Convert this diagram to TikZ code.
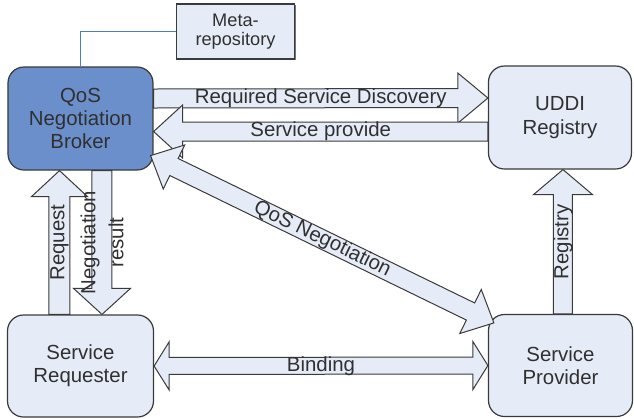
\documentclass[tikz,border=0pt]{standalone}
\usepackage{fontspec}
\setmainfont{Liberation Sans}
\usetikzlibrary{calc,shadows}

\definecolor{boxfill}{HTML}{E6ECF7}
\definecolor{brokerfill}{HTML}{6A8FCA}
\definecolor{edge}{HTML}{3A3A3A}
\definecolor{ink}{HTML}{303030}
\definecolor{linkblue}{HTML}{4A7CC9}

% block arrow from #1 (tail) to #2 (tip):
% #3 shaft half-width, #4 head half-width, #5 head length
\newcommand\blockarrow[5]{%
  \coordinate (hb) at ($(#2)!#5!(#1)$);
  \filldraw[blockarr] ($(#1)!#3!90:(#2)$) -- ($(hb)!#3!90:(#2)$) -- ($(hb)!#4!90:(#2)$)
    -- (#2) -- ($(hb)!#4!-90:(#2)$) -- ($(hb)!#3!-90:(#2)$) -- ($(#1)!#3!-90:(#2)$) -- cycle;
}
% block arrow with a head at both ends
\newcommand\blockdarrow[5]{%
  \coordinate (ha) at ($(#1)!#5!(#2)$);
  \coordinate (hb) at ($(#2)!#5!(#1)$);
  \filldraw[blockarr] (#1) -- ($(ha)!#4!90:(#2)$) -- ($(ha)!#3!90:(#2)$) -- ($(hb)!#3!90:(#2)$)
    -- ($(hb)!#4!90:(#2)$) -- (#2) -- ($(hb)!#4!-90:(#2)$) -- ($(hb)!#3!-90:(#2)$)
    -- ($(ha)!#3!-90:(#2)$) -- ($(ha)!#4!-90:(#2)$) -- cycle;
}

\tikzset{
  entity/.style={draw=edge, line width=0.6pt, fill=boxfill, rounded corners=8pt,
    align=center, inner sep=0pt, text=ink},
  metabox/.style={draw=edge, line width=0.6pt, fill=boxfill, align=center, inner sep=0pt,
    text=ink, font=\fontsize{9.1}{9.6}\selectfont,
    drop shadow={shadow xshift=0.6pt, shadow yshift=-0.6pt, fill=black!55, opacity=1}},
  blockarr/.style={draw=edge, line width=0.5pt, fill=boxfill, line join=miter},
  arrlabel/.style={inner sep=0pt, text=ink},
  link/.style={draw=linkblue, line width=0.5pt}
}

\begin{document}
\begin{tikzpicture}[x=0.5pt, y=-0.5pt, font=\fontsize{10.2}{11.7}\selectfont]
\useasboundingbox (0,0) rectangle (634,419);

% participants
\node[entity, fill=brokerfill, minimum width=72.5pt, minimum height=51.5pt] (broker) at (80.5,118.5) {QoS\\Negotiation\\Broker};
\node[entity, minimum width=71.5pt, minimum height=51.5pt] (uddi) at (560,117.5) {UDDI\\Registry};
\node[entity, minimum width=73pt, minimum height=51pt] (requester) at (80.5,366) {Service\\Requester};
\node[entity, minimum width=72pt, minimum height=51pt] (provider) at (560.5,365.5) {Service\\Provider};
\node[metabox, minimum width=59pt, minimum height=27.5pt] (meta) at (235.5,31.5) {Meta-\\repository};

% broker to meta-repository
\draw[link] (broker.north) |- (meta.west);

% connector end points
\coordinate (rsd-a) at ($(broker.east)+(0,-20)$);
\coordinate (rsd-b) at ($(uddi.west)+(0,-19.5)$);
\coordinate (sp-a) at ($(uddi.west)+(0,14)$);
\coordinate (sp-b) at ($(broker.east)+(0,13)$);
\coordinate (qos-a) at ($(broker.south east)+(-3,-15)$);
\coordinate (qos-b) at ($(provider.north west)+(6,9)$);
\coordinate (req-a) at ($(requester.north)+(-21,0)$);
\coordinate (req-b) at ($(broker.south)+(-21,0)$);
\coordinate (neg-a) at ($(broker.south)+(21.5,0)$);
\coordinate (neg-b) at ($(requester.north)+(21.5,0)$);
\coordinate (reg-a) at ($(provider.north)+(2.5,0)$);
\coordinate (reg-b) at ($(uddi.south)+(3,0)$);
\coordinate (bind-a) at (requester.east);
\coordinate (bind-b) at (provider.west);

% block arrows
\blockarrow{rsd-a}{rsd-b}{4.75pt}{12.5pt}{15pt}
\blockarrow{sp-a}{sp-b}{4.75pt}{13.25pt}{14.5pt}
\blockdarrow{qos-a}{qos-b}{4.75pt}{12.25pt}{13pt}
\blockarrow{req-a}{req-b}{5.25pt}{14pt}{13pt}
\blockarrow{neg-a}{neg-b}{5pt}{14.25pt}{13pt}
\blockarrow{reg-a}{reg-b}{4.75pt}{14.75pt}{12.5pt}
\blockdarrow{bind-a}{bind-b}{4.25pt}{12pt}{7.5pt}

% arrow labels
\path (rsd-a) -- (rsd-b) node[arrlabel, midway] (l-rsd) {Required Service Discovery};
\path (sp-b) -- (sp-a) node[arrlabel, midway] (l-sp) {Service provide};
\path (qos-a) -- (qos-b) node[arrlabel, midway, sloped] (l-qos) {QoS Negotiation};
\path (req-a) -- (req-b) node[arrlabel, midway, rotate=90] (l-req) {Request};
\path (neg-a) -- (neg-b) node[arrlabel, midway, rotate=90, align=center,
  font=\fontsize{10.2}{14}\selectfont] (l-neg) {Negotiation\\result};
\path (reg-a) -- (reg-b) node[arrlabel, midway, rotate=90] (l-reg) {Registry};
\path (bind-a) -- (bind-b) node[arrlabel, midway] (l-bind) {Binding};
\end{tikzpicture}
\end{document}
